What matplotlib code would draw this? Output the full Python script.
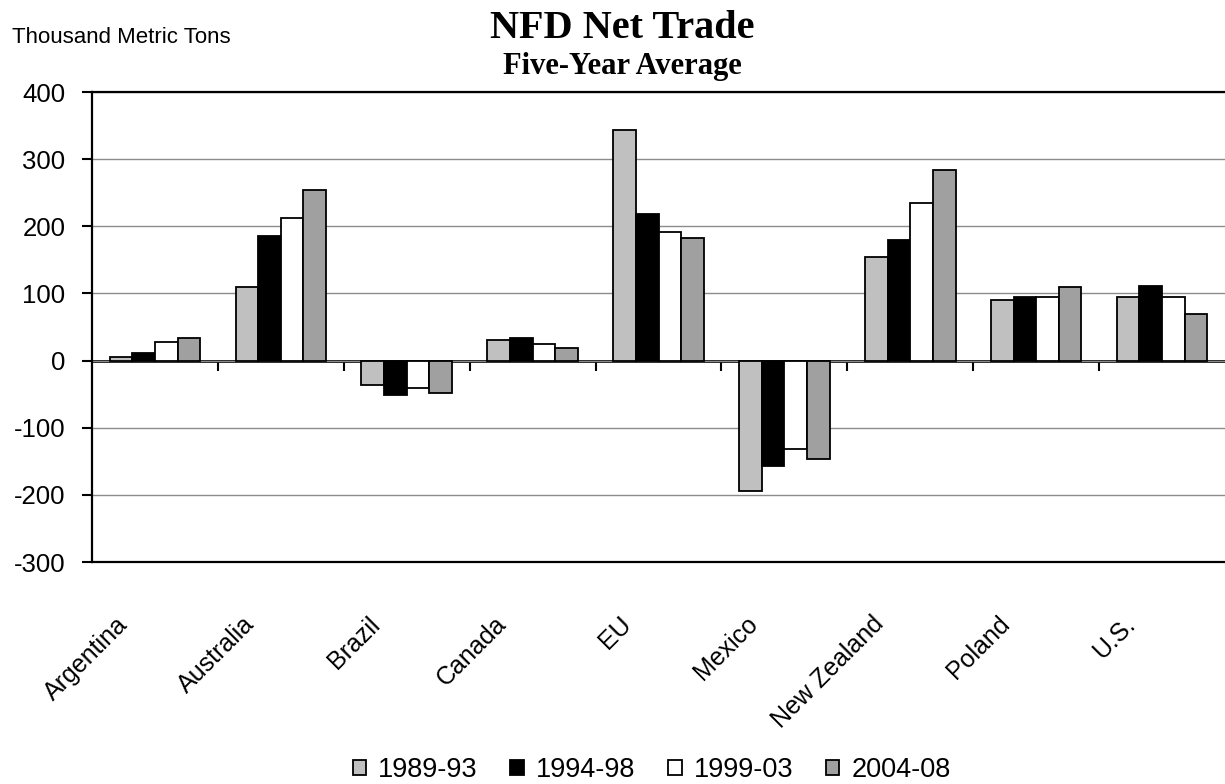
import numpy as np
import matplotlib
matplotlib.use("Agg")
import matplotlib.pyplot as plt
import matplotlib.transforms as mtransforms
from matplotlib.patches import Patch

# Data (thousand metric tons)
countries = ["Argentina", "Australia", "Brazil", "Canada", "EU",
             "Mexico", "New Zealand", "Poland", "U.S."]
periods = ["1989-93", "1994-98", "1999-03", "2004-08"]
avg_1989_93 = [6, 110, -36, 30, 343, -194, 155, 90, 95]
avg_1994_98 = [12, 186, -52, 33, 218, -157, 179, 95, 111]
avg_1999_03 = [27, 212, -41, 24, 191, -131, 235, 95, 95]
avg_2004_08 = [33, 254, -48, 18, 183, -147, 284, 110, 69]
series = [avg_1989_93, avg_1994_98, avg_1999_03, avg_2004_08]
colors = ["#c0c0c0", "#000000", "#ffffff", "#a0a0a0"]

plt.rcParams["font.family"] = ["Liberation Sans", "DejaVu Sans"]
plt.rcParams["axes.unicode_minus"] = False

fig = plt.figure(figsize=(12.25, 7.84), dpi=100)
ax = fig.add_axes([92 / 1225, 1 - 562 / 784, (1225 - 92) / 1225, 470 / 784])

x = np.arange(len(countries))
barWidth = 0.18
for i, (values, color) in enumerate(zip(series, colors)):
    ax.bar(x + (i - 1.5) * barWidth, values, barWidth, color=color,
           edgecolor="black", linewidth=1.3, label=periods[i], zorder=3)

ax.set_xlim(-0.5, len(countries) - 0.5)
ax.set_ylim(-300, 400)
ax.set_yticks(np.arange(-300, 401, 100))
ax.yaxis.grid(True, color="#8c8c8c", linewidth=1.0, zorder=0)
ax.tick_params(axis="y", direction="out", length=7, width=1.5, pad=12,
               labelsize=18.5)

for side in ["top", "left", "bottom"]:
    ax.spines[side].set_linewidth(1.6)
ax.spines["right"].set_visible(False)

# Category labels below the plot area
ax.set_xticks(x)
ax.set_xticklabels(countries, rotation=45, ha="right", va="top", fontsize=18)
ax.tick_params(axis="x", length=0, pad=36)
offset = mtransforms.ScaledTranslation(-22 / 100, 0, fig.dpi_scale_trans)
for label in ax.get_xticklabels():
    label.set_transform(label.get_transform() + offset)

# Zero line with category separators
zeroAxis = ax.secondary_xaxis(300 / 700)
zeroAxis.set_xticks(np.arange(0.5, len(countries) - 0.5, 1))
zeroAxis.set_xticklabels([])
zeroAxis.tick_params(direction="out", length=7, width=1.5)
zeroAxis.spines["bottom"].set_linewidth(2.0)

fig.text(0.508, 1 - 38 / 784, "NFD Net Trade", ha="center", va="baseline",
         family="Liberation Serif", fontweight="bold", fontsize=29)
fig.text(0.508, 1 - 74 / 784, "Five-Year Average", ha="center",
         va="baseline", family="Liberation Serif", fontweight="bold",
         fontsize=22)
fig.text(0.010, 1 - 43 / 784, "Thousand Metric Tons", ha="left",
         va="baseline", fontsize=16)

handles = [Patch(facecolor=c, edgecolor="black", linewidth=1.3) for c in colors]
fig.legend(handles, periods, loc="center", bbox_to_anchor=(0.532, 0.018),
           ncol=4, frameon=False, fontsize=19.5, handlelength=0.5,
           handleheight=0.5, handletextpad=0.45, columnspacing=1.2)

fig.savefig("out.png", dpi=100)
